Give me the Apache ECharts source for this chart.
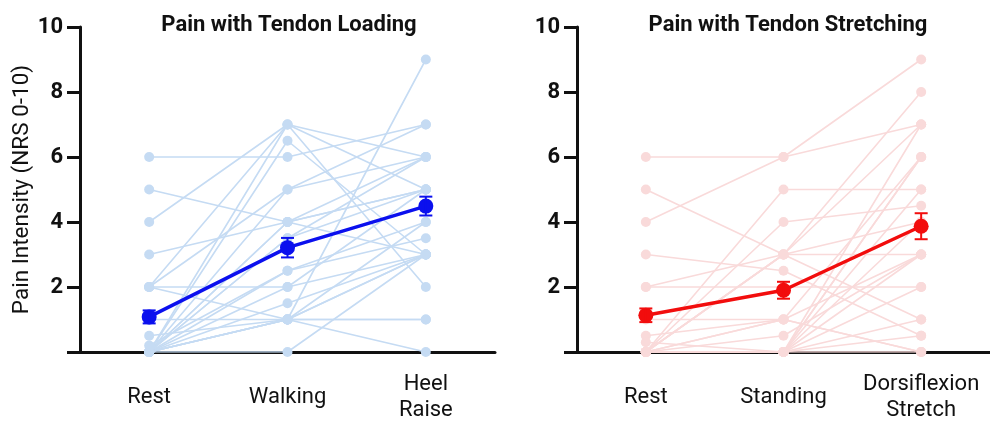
<!DOCTYPE html>
<html>
<head>
<meta charset="utf-8">
<script src="https://cdn.jsdelivr.net/npm/echarts@6/dist/echarts.min.js"></script>
<style>
html,body{margin:0;padding:0;background:#fff;}
#c{width:990px;height:428px;}
</style>
</head>
<body>
<div id="c"></div>
<script>
// ---- data ----
const titles = ['Pain with Tendon Loading', 'Pain with Tendon Stretching'];
const catsLoad = ['Rest', 'Walking', 'Heel\nRaise'];
const catsStretch = ['Rest', 'Standing', 'Dorsiflexion\nStretch'];
const yTicks = [0, 2, 4, 6, 8, 10];

// individual participants – loading
const loadRest  = [6, 5, 4, 3, 2, 2, 2, 2, 0.5, 0.2, 0, 0,   0, 0, 0,   0,   0, 0,   0, 0, 0, 0, 0,   0, 0, 1];
const loadWalk  = [6, 4, 7, 4, 5, 2, 7, 1, 1,   2.5, 7, 6.5, 5, 4, 3.5, 2.5, 2, 1.5, 1, 1, 1, 0, 3.5, 4, 1, 1];
const loadHeel  = [7, 3, 5, 5, 6, 3, 6, 1, 3,   4,   2, 3,   7, 5, 5,   3.5, 5, 3,   9, 0, 4, 3, 6,   6, 3, 1];

// individual participants – stretching
const strRest   = [6, 4, 5, 3,   2, 2, 0.5, 0.3, 0, 0,   0, 0, 0, 0, 0, 0, 0,   0, 0, 0, 0, 0, 1, 0, 0,   0];
const strStand  = [6, 6, 3, 2.5, 2, 3, 1,   0,   5, 4,   3, 3, 1, 0, 0, 0, 0.5, 0, 1, 0, 0, 0, 1, 3, 0,   0];
const strDorsi  = [9, 7, 1, 0.5, 2, 3, 0,   6,   5, 4.5, 8, 7, 6, 7, 5, 4, 3,   2, 0, 0, 1, 6, 3, 4, 0.5, 3];

// group means and SEM
const loadMean = [1.08, 3.21, 4.49];
const loadSem  = [0.20, 0.30, 0.29];
const strMean  = [1.13, 1.90, 3.87];
const strSem   = [0.21, 0.26, 0.40];

// ---- styles ----
const lightBlue = '#c5dbf3';
const lightRed = '#f9dada';
const blue = '#0b10ee';
const red = '#f20d0d';
const ink = '#111111';

function indivSeries(a, b, c, color, axisIdx) {
  const out = [];
  for (let i = 0; i < a.length; i++) {
    out.push({
      type: 'line', xAxisIndex: axisIdx, yAxisIndex: axisIdx,
      data: [a[i], b[i], c[i]],
      symbol: 'circle', symbolSize: 10, silent: true,
      lineStyle: { color: color, width: 1.6 },
      itemStyle: { color: color },
      z: 2, animation: false
    });
  }
  return out;
}

function meanSeries(m, color, axisIdx) {
  return {
    type: 'line', xAxisIndex: axisIdx, yAxisIndex: axisIdx,
    data: m, symbol: 'circle', symbolSize: 15,
    lineStyle: { color: color, width: 3.5 },
    itemStyle: { color: color }, z: 10, animation: false
  };
}

function errSeries(m, s, color, axisIdx) {
  return {
    type: 'custom', xAxisIndex: axisIdx, yAxisIndex: axisIdx, z: 11, animation: false,
    data: m.map((v, i) => [i, v - s[i], v + s[i]]),
    encode: { x: 0, y: [1, 2] },
    renderItem: function (params, api) {
      const lo = api.coord([api.value(0), api.value(1)]);
      const hi = api.coord([api.value(0), api.value(2)]);
      const hw = 6.5;
      const st = { stroke: color, lineWidth: 2 };
      return {
        type: 'group', children: [
          { type: 'line', shape: { x1: lo[0], y1: lo[1], x2: hi[0], y2: hi[1] }, style: st },
          { type: 'line', shape: { x1: lo[0] - hw, y1: lo[1], x2: lo[0] + hw, y2: lo[1] }, style: st },
          { type: 'line', shape: { x1: hi[0] - hw, y1: hi[1], x2: hi[0] + hw, y2: hi[1] }, style: st }
        ]
      };
    }
  };
}

function xAxis(cats, idx) {
  return {
    type: 'category', gridIndex: idx, data: cats, boundaryGap: true,
    axisLine: { lineStyle: { color: ink, width: 3 } },
    axisTick: { alignWithLabel: true, length: 9, lineStyle: { color: ink, width: 3 } },
    axisLabel: { color: ink, fontFamily: 'Roboto', fontSize: 22, margin: 45,
                 verticalAlign: 'middle', lineHeight: 26, interval: 0 }
  };
}

function yAxis(idx, withName) {
  const ax = {
    type: 'value', gridIndex: idx, min: yTicks[0], max: yTicks[yTicks.length - 1], interval: 2,
    axisLine: { show: true, lineStyle: { color: ink, width: 3 } },
    axisTick: { show: true, length: 13, lineStyle: { color: ink, width: 3 } },
    splitLine: { show: false },
    axisLabel: { color: ink, fontFamily: 'Roboto', fontWeight: 'bold', fontSize: 22, margin: 17,
                 formatter: v => (v === 0 ? '' : String(v)) }
  };
  if (withName) {
    ax.name = 'Pain Intensity (NRS 0-10)';
    ax.nameLocation = 'middle';
    ax.nameGap = 45;
    ax.nameTextStyle = { color: ink, fontFamily: 'Roboto', fontSize: 22.5 };
  }
  return ax;
}

const option = {
  backgroundColor: '#ffffff',
  animation: false,
  title: [
    { text: titles[0], left: 284, top: 9, textAlign: 'center',
      textStyle: { fontFamily: 'Roboto', fontWeight: 'bold', fontSize: 22, color: ink } },
    { text: titles[1], left: 783, top: 9, textAlign: 'center',
      textStyle: { fontFamily: 'Roboto', fontWeight: 'bold', fontSize: 22, color: ink } }
  ],
  grid: [
    { left: 80, top: 27, width: 415, height: 325 },
    { left: 577, top: 27, width: 413, height: 325 }
  ],
  xAxis: [xAxis(catsLoad, 0), xAxis(catsStretch, 1)],
  yAxis: [yAxis(0, true), yAxis(1, false)],
  series: [].concat(
    indivSeries(loadRest, loadWalk, loadHeel, lightBlue, 0),
    indivSeries(strRest, strStand, strDorsi, lightRed, 1),
    [meanSeries(loadMean, blue, 0), errSeries(loadMean, loadSem, blue, 0),
     meanSeries(strMean, red, 1), errSeries(strMean, strSem, red, 1)]
  )
};

const chart = echarts.init(document.getElementById('c'), null, { renderer: 'canvas' });
chart.setOption(option);
</script>
</body>
</html>
